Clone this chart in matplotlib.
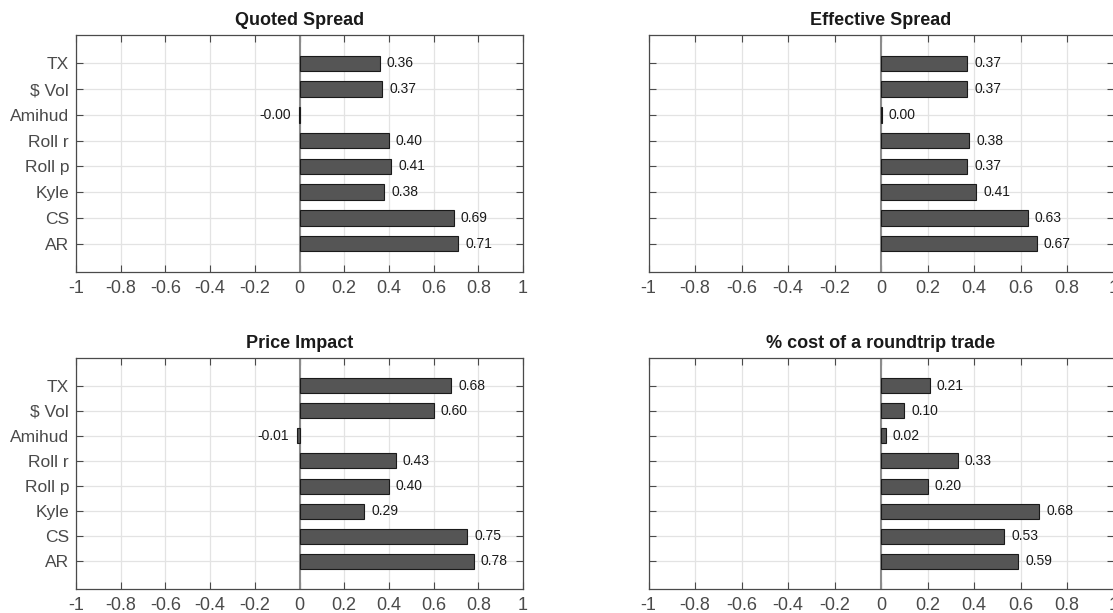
import matplotlib.pyplot as plt
import numpy as np

plt.rcParams['font.family'] = ['Liberation Sans', 'DejaVu Sans']

measures = ['TX', '\\$ Vol', 'Amihud', 'Roll r', 'Roll p', 'Kyle', 'CS', 'AR']
titles = ['Quoted Spread', 'Effective Spread', 'Price Impact', '% cost of a roundtrip trade']

quoted = [0.36, 0.37, -0.002, 0.40, 0.41, 0.38, 0.69, 0.71]
effective = [0.37, 0.37, 0.003, 0.38, 0.37, 0.41, 0.63, 0.67]
impact = [0.68, 0.60, -0.01, 0.43, 0.40, 0.29, 0.75, 0.78]
cost = [0.21, 0.10, 0.02, 0.33, 0.20, 0.68, 0.53, 0.59]

panels = [quoted, effective, impact, cost]
xticks = [-1, -0.8, -0.6, -0.4, -0.2, 0, 0.2, 0.4, 0.6, 0.8, 1]
xlabels = ['-1', '-0.8', '-0.6', '-0.4', '-0.2', '0', '0.2', '0.4', '0.6', '0.8', '1']

fig = plt.figure(figsize=(11.13, 6.13), dpi=100)

# axes boxes in figure fractions [left, bottom, width, height]
boxes = [
    [0.0683, 0.5563, 0.4016, 0.3866],
    [0.5827, 0.5563, 0.4178, 0.3866],
    [0.0683, 0.0392, 0.4016, 0.3768],
    [0.5827, 0.0392, 0.4178, 0.3768],
]

axcol = '#4a4a4a'

for i, (vals, title, box) in enumerate(zip(panels, titles, boxes)):
    ax = fig.add_axes(box)
    y = np.arange(1, len(measures) + 1)
    ax.barh(y, vals, height=0.6, color='#555555', edgecolor='#1a1a1a', linewidth=0.8, zorder=3)
    ax.axvline(0, color='#8c8c8c', linewidth=1.5, zorder=2)

    for yy, v in zip(y, vals):
        if v < 0:
            ax.annotate('%.2f' % v, (v, yy), xytext=(-6, 0), textcoords='offset points',
                        ha='right', va='center', fontsize=10, color='#1a1a1a', zorder=4)
        else:
            ax.annotate('%.2f' % v, (v, yy), xytext=(5, 0), textcoords='offset points',
                        ha='left', va='center', fontsize=10, color='#1a1a1a', zorder=4)

    ax.set_xlim(-1, 1)
    ax.set_ylim(9.1, -0.1)
    ax.set_xticks(xticks)
    ax.set_xticklabels(xlabels)
    ax.set_yticks(y)
    if i % 2 == 0:
        ax.set_yticklabels(measures)
    else:
        ax.set_yticklabels([])

    ax.grid(True, color='#e3e3e3', linewidth=0.9, zorder=0)
    ax.set_axisbelow(True)
    ax.tick_params(direction='in', top=True, right=True, length=5, width=0.8,
                   colors=axcol, labelsize=12.5, pad=5)
    ax.tick_params(axis='x', labelsize=13, pad=6)
    for s in ax.spines.values():
        s.set_color(axcol)
        s.set_linewidth(0.9)

    ax.set_title(title, fontsize=13, fontweight='bold', color='#1a1a1a', pad=7)

fig.savefig('out.png', dpi=100)
